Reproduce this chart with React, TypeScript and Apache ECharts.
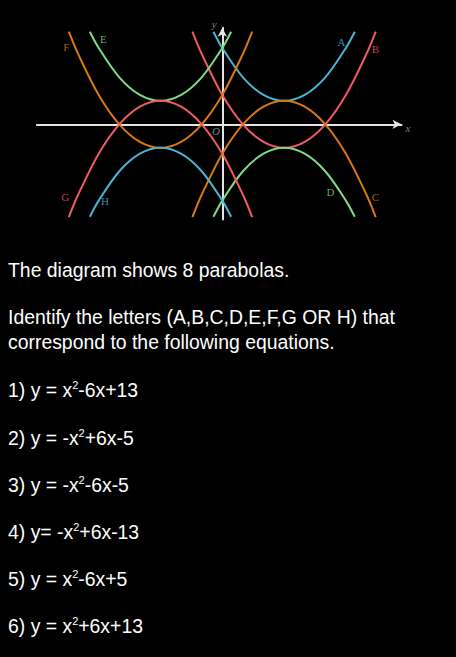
import React, { useEffect, useRef } from 'react';
import * as echarts from 'echarts';

// Parabola sample points [x, y]
const curveA = [[-0.43, 15.76], [0, 13], [1, 8], [2, 5], [3, 4], [4, 5], [5, 8], [6, 13], [6.43, 15.76]];
const curveB = [[-1.45, 15.8], [-1, 12], [0, 5], [1, 0], [2, -3], [3, -4], [4, -3], [5, 0], [6, 5], [7, 12], [7.45, 15.8]];
const curveC = [[-1.45, -15.8], [-1, -12], [0, -5], [1, 0], [2, 3], [3, 4], [4, 3], [5, 0], [6, -5], [7, -12], [7.45, -15.8]];
const curveD = [[-0.43, -15.76], [0, -13], [1, -8], [2, -5], [3, -4], [4, -5], [5, -8], [6, -13], [6.43, -15.76]];
const curveE = [[-6.43, 15.76], [-6, 13], [-5, 8], [-4, 5], [-3, 4], [-2, 5], [-1, 8], [0, 13], [0.43, 15.76]];
const curveF = [[-7.45, 15.8], [-7, 12], [-6, 5], [-5, 0], [-4, -3], [-3, -4], [-2, -3], [-1, 0], [0, 5], [1, 12], [1.45, 15.8]];
const curveG = [[-7.45, -15.8], [-7, -12], [-6, -5], [-5, 0], [-4, 3], [-3, 4], [-2, 3], [-1, 0], [0, -5], [1, -12], [1.45, -15.8]];
const curveH = [[-6.43, -15.76], [-6, -13], [-5, -8], [-4, -5], [-3, -4], [-2, -5], [-1, -8], [0, -13], [0.43, -15.76]];

const curveNames = ['A', 'B', 'C', 'D', 'E', 'F', 'G', 'H'];
const curves = [curveA, curveB, curveC, curveD, curveE, curveF, curveG, curveH];

// letter label positions (data coords)
const labelX = [5.79, 7.43, 7.43, 5.25, -5.77, -7.57, -7.62, -5.69];
const labelY = [14.1, 12.9, -12.3, -11.6, 14.5, 13.2, -12.3, -13.1];

// axis annotation labels
const axisLabelText = ['x', 'y', 'O'];
const axisLabelX = [9.01, -0.39, -0.31];
const axisLabelY = [-0.68, 17.04, -1.14];

const BLUE = '#4bb4d3';
const RED = '#f25a62';
const ORANGE = '#d9780f';
const GREEN = '#7fdb83';
const curveColors = [BLUE, RED, ORANGE, GREEN, GREEN, ORANGE, RED, BLUE];

const textLines = [
  { t: 'The diagram shows 8 parabolas.', base: 276.7 },
  { t: 'Identify the letters (A,B,C,D,E,F,G OR H) that', base: 324.3 },
  { t: 'correspond to the following equations.', base: 349 },
];
const equations = [
  { pre: '1) y = x', post: '-6x+13', base: 396.7 },
  { pre: '2) y = -x', post: '+6x-5', base: 445 },
  { pre: '3) y = -x', post: '-6x-5', base: 491.7 },
  { pre: '4) y= -x', post: '+6x-13', base: 539.3 },
  { pre: '5) y = x', post: '-6x+5', base: 586 },
  { pre: '6) y = x', post: '+6x+13', base: 632.7 },
];

const FS = 19.4;
const LH = 24.7;
const BASE_OFF = (LH - 1.117 * FS) / 2 + 0.905 * FS;

export default function App() {
  const ref = useRef<HTMLDivElement>(null);
  useEffect(() => {
    document.body.style.margin = '0';
    document.body.style.background = '#000';
    document.documentElement.style.background = '#000';
    const chart = echarts.init(ref.current!, null, { renderer: 'svg' });
    const axisCommon = {
      type: 'value' as const,
      axisTick: { show: false },
      axisLabel: { show: false },
      splitLine: { show: false },
      axisLine: {
        show: true,
        onZero: true,
        symbol: ['none', 'arrow'],
        symbolSize: [7, 9],
        lineStyle: { color: '#e4e4e4', width: 2 },
      },
    };
    const lineSeries = curves.map((c, i) => ({
      type: 'line',
      name: curveNames[i],
      data: c,
      smooth: 0.33,
      showSymbol: false,
      symbol: 'none',
      lineStyle: { color: curveColors[i], width: 2 },
      z: 3,
    }));
    chart.setOption({
      animation: false,
      backgroundColor: '#000',
      grid: { left: 36.9, right: 54.5, top: 27.8, bottom: 10.6 },
      xAxis: { ...axisCommon, min: -9, max: 8.7 },
      yAxis: { ...axisCommon, min: -16.2, max: 16.44 },
      series: [
        ...lineSeries,
        {
          type: 'scatter',
          clip: false,
          symbolSize: 1,
          itemStyle: { color: 'rgba(0,0,0,0)' },
          z: 5,
          data: curveNames.map((n, i) => ({
            value: [labelX[i], labelY[i]],
            name: n,
            label: {
              show: true,
              position: 'inside',
              formatter: n,
              color: curveColors[i],
              fontFamily: "'Liberation Serif', 'Times New Roman', serif",
              fontSize: 11,
            },
          })),
        },
        {
          type: 'scatter',
          clip: false,
          symbolSize: 1,
          itemStyle: { color: 'rgba(0,0,0,0)' },
          z: 5,
          data: axisLabelText.map((n, i) => ({
            value: [axisLabelX[i], axisLabelY[i]],
            name: n,
            label: {
              show: true,
              position: 'inside',
              formatter: n,
              color: '#98a4b4',
              fontStyle: 'italic',
              fontFamily: "'Liberation Serif', 'Times New Roman', serif",
              fontSize: 11,
            },
          })),
        },
      ],
    });
    return () => chart.dispose();
  }, []);

  const textStyle: React.CSSProperties = {
    position: 'absolute',
    left: 8,
    color: '#fff',
    fontFamily: "Arial, 'Liberation Sans', sans-serif",
    fontSize: FS,
    lineHeight: LH + 'px',
    whiteSpace: 'nowrap',
    margin: 0,
  };
  const supStyle: React.CSSProperties = {
    fontSize: 11,
    position: 'relative',
    top: -8,
  };

  return (
    <div style={{ position: 'relative', width: 456, height: 657, background: '#000', overflow: 'hidden' }}>
      <div ref={ref} style={{ position: 'absolute', left: 0, top: 0, width: 456, height: 230 }} />
      {textLines.map((l, i) => (
        <div key={'t' + i} style={{ ...textStyle, top: l.base - BASE_OFF }}>{l.t}</div>
      ))}
      {equations.map((e, i) => (
        <div key={'e' + i} style={{ ...textStyle, top: e.base - BASE_OFF }}>
          {e.pre}
          <span style={supStyle}>2</span>
          {e.post}
        </div>
      ))}
    </div>
  );
}
